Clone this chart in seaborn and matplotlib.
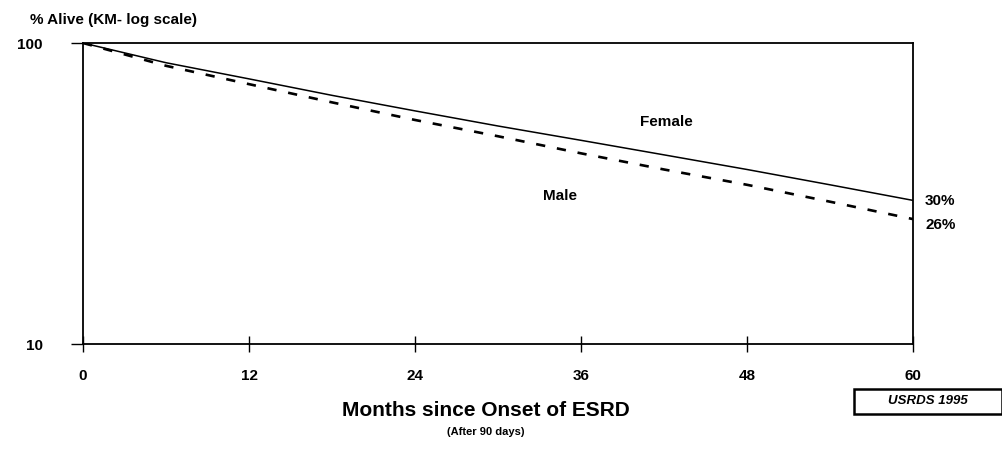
import numpy as np
import pandas as pd
import matplotlib
matplotlib.use("Agg")
import matplotlib.pyplot as plt
import matplotlib.ticker as mticker
import matplotlib.patches as mpatches
import seaborn as sns

# ---- data ----
months = [0, 6, 12, 18, 24, 30, 36, 42, 48, 54, 60]
female = [100, 86, 76, 67, 59.5, 53, 47.5, 42.5, 38, 33.8, 30]
male = [100, 84, 73, 63.5, 55.5, 49, 43, 38, 33.8, 29.7, 26]
x_ticks = [0, 12, 24, 36, 48, 60]
y_ticks = [10, 100]
end_labels = ["30%", "26%"]

sns.set_theme(style="white")
plt.rcParams["font.family"] = ["Liberation Sans", "DejaVu Sans"]
plt.rcParams["font.weight"] = "bold"
plt.rcParams["text.color"] = "black"
plt.rcParams["xtick.color"] = "black"
plt.rcParams["ytick.color"] = "black"

W, H = 1003, 449
fig = plt.figure(figsize=(W / 100, H / 100), dpi=100)
ax = fig.add_axes([83 / W, 105 / H, (913 - 83) / W, (344 - 43) / H])

df_f = pd.DataFrame({"month": months, "alive": female})
df_m = pd.DataFrame({"month": months, "alive": male})
sns.lineplot(data=df_f, x="month", y="alive", ax=ax, color="black", lw=1.1)
sns.lineplot(data=df_m, x="month", y="alive", ax=ax, color="black", lw=1.9,
             linestyle=(0, (3.5, 4.5)))

ax.set_yscale("log")
ax.set_xlim(0, 60)
ax.set_ylim(10, 100)
ax.set_xticks(x_ticks)
ax.set_xticklabels([str(t) for t in x_ticks])
ax.set_yticks(y_ticks)
ax.set_yticklabels([str(t) for t in y_ticks])
ax.yaxis.set_minor_locator(mticker.NullLocator())
ax.set_xlabel("")
ax.set_ylabel("")
for s in ax.spines.values():
    s.set_color("black")
    s.set_linewidth(1.3)
ax.tick_params(axis="x", bottom=True, direction="inout", length=12, width=1,
               colors="black", labelcolor="black", labelsize=11, pad=12)
ax.tick_params(axis="y", left=True, direction="out", length=9, width=1,
               colors="black", labelcolor="black", labelsize=11, pad=20)
for lab in ax.get_xticklabels() + ax.get_yticklabels():
    lab.set_fontweight("bold")

# series labels
fig.text(640 / W, 1 - 122 / H, "Female", fontsize=11, fontweight="bold",
         ha="left", va="center", color="black")
fig.text(543 / W, 1 - 196 / H, "Male", fontsize=11, fontweight="bold",
         ha="left", va="center", color="black")
fig.text(925 / W, 1 - 201 / H, end_labels[0], fontsize=11, fontweight="bold",
         ha="left", va="center", color="black")
fig.text(925 / W, 1 - 225 / H, end_labels[1], fontsize=11, fontweight="bold",
         ha="left", va="center", color="black")

# titles
fig.text(30 / W, 1 - 20 / H, "% Alive (KM- log scale)", fontsize=11,
         fontweight="bold", ha="left", va="center", color="black")
fig.text(486 / W, 1 - 410 / H, "Months since Onset of ESRD", fontsize=15,
         fontweight="bold", ha="center", va="center", color="black")
fig.text(486 / W, 1 - 432 / H, "(After 90 days)", fontsize=8,
         fontweight="bold", ha="center", va="center", color="black")

# source box
fig.patches.append(mpatches.Rectangle((854 / W, 1 - 414 / H), 148 / W, 25 / H,
                                      transform=fig.transFigure, fill=False,
                                      ec="black", lw=1.8))
fig.text(928 / W, 1 - 401 / H, "USRDS 1995", fontsize=9.5, fontweight="bold",
         fontstyle="italic", ha="center", va="center", color="black")

fig.savefig("out.png", dpi=100)
